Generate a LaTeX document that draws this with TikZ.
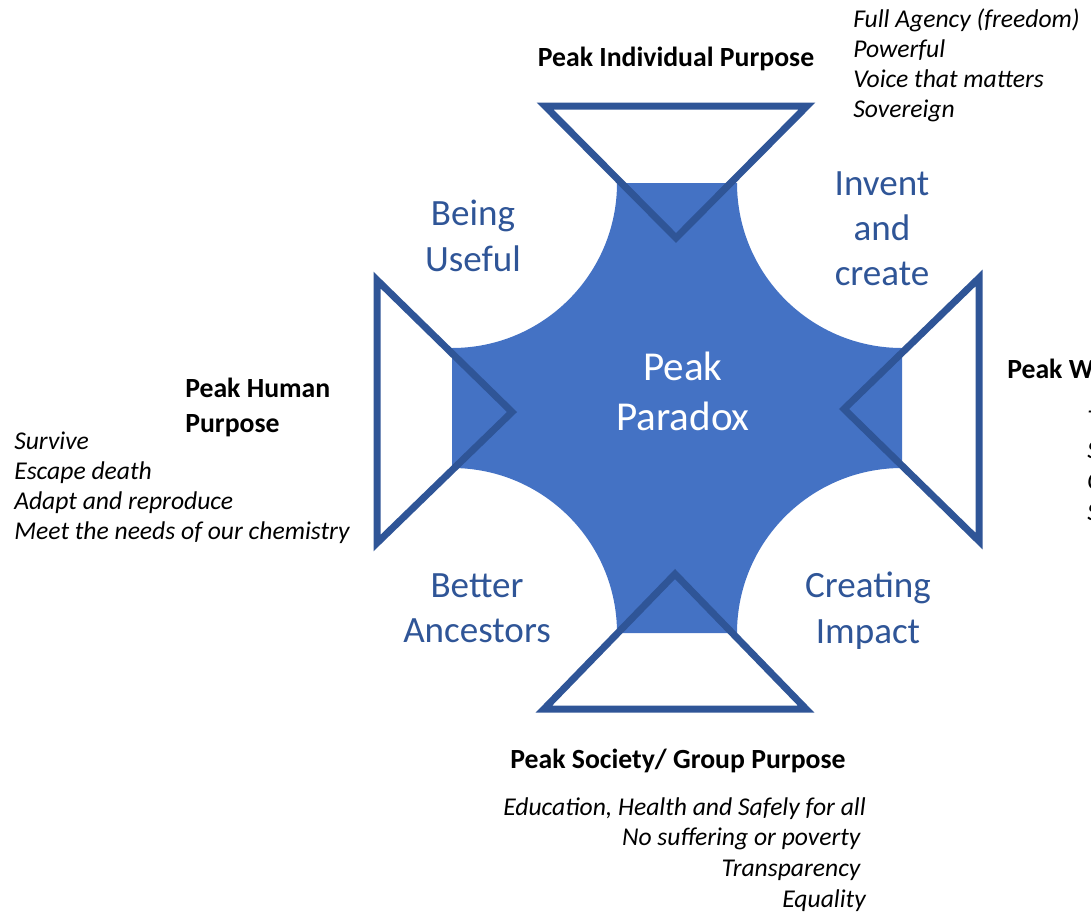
\documentclass[tikz,border=0pt]{standalone}
\usepackage{fontspec}
\setmainfont{Carlito}
\definecolor{fillblue}{HTML}{4472C4}
\definecolor{lineblue}{HTML}{2F5597}
\tikzset{
  peaktri/.style={draw=lineblue, line width=5.25pt, line join=miter},
  headtext/.style={font=\fontsize{20.8}{26.25}\selectfont\bfseries, inner sep=0pt},
  listtext/.style={font=\fontsize{19.2}{22.5}\selectfont\itshape, inner sep=0pt},
  labeltext/.style={text=lineblue, font=\fontsize{27.8}{34}\selectfont, align=center, inner sep=0pt},
}

\begin{document}
\begin{tikzpicture}[x=0.75pt,y=0.75pt,yscale=-1,xscale=1]
  \useasboundingbox (0,0) rectangle (1091,921);
  \clip (0,0) rectangle (1091,921);

  %Shape: cross with hollow corners
  \fill[fillblue] (617,183) -- (737,183) arc[start angle=180, end angle=90, radius=165]
    -- (902,468) arc[start angle=270, end angle=180, radius=165]
    -- (617,633) arc[start angle=0, end angle=-90, radius=165]
    -- (452,348) arc[start angle=90, end angle=0, radius=165] -- cycle ;

  %Shape: Triangles
  \draw[peaktri] (545,106) -- (807,106) -- (676,238) -- cycle ;
  \draw[peaktri] (377,280) -- (377,543) -- (512,412) -- cycle ;
  \draw[peaktri] (979,278) -- (979,541) -- (844,409) -- cycle ;
  \draw[peaktri] (544,709) -- (806,709) -- (675,574) -- cycle ;

  % Text Node
  \node[labeltext, text=white, font=\fontsize{30.8}{37.5}\selectfont, anchor=north] (paradox) at (683,352) {Peak\\Paradox};
  % Text Node
  \node[labeltext, anchor=north] (useful) at (473,200) {Being\\Useful};
  % Text Node
  \node[labeltext, anchor=north] (invent) at (882,171) {Invent\\and\\create};
  % Text Node
  \node[labeltext, anchor=north] (ancestors) at (477,573) {Better\\Ancestors};
  % Text Node
  \node[labeltext, anchor=north] (impact) at (868,572) {Creating\\Impact};

  % Text Node
  \node[headtext, anchor=base] (indivhead) at (676,66) {Peak Individual Purpose};
  % Text Node
  \node[headtext, anchor=north west, align=left] (humanhead) at (185,378) {Peak Human\\Purpose};
  % Text Node
  \node[headtext, anchor=base] (grouphead) at (678,768) {Peak Society/ Group Purpose};
  % Text Node
  \node[headtext, anchor=base west] (worldhead) at (1007,378) {Peak W};

  % Lists
  \foreach \txt [count=\i] in {Full Agency (freedom), Powerful, Voice that matters, Sovereign}
    \node[listtext, anchor=base west] (indiv\i) at (853,{27+30*(\i-1)}) {\txt};
  \foreach \txt [count=\i] in {Survive, Escape death, Adapt and reproduce, Meet the needs of our chemistry}
    \node[listtext, anchor=base west] (human\i) at (14,{449+30*(\i-1)}) {\txt};
  \foreach \txt [count=\i] in {{Education, Health and Safely for all}, No suffering or poverty\kern4pt, Transparency\kern4pt, Equality}
    \node[listtext, anchor=base east] (group\i) at (866,{815+30.7*(\i-1)}) {\txt};
  \foreach \txt [count=\i] in {T, S, C, S}
    \node[listtext, anchor=base west] (world\i) at (1087,{427+31*(\i-1)}) {\txt};

\end{tikzpicture}
\end{document}
